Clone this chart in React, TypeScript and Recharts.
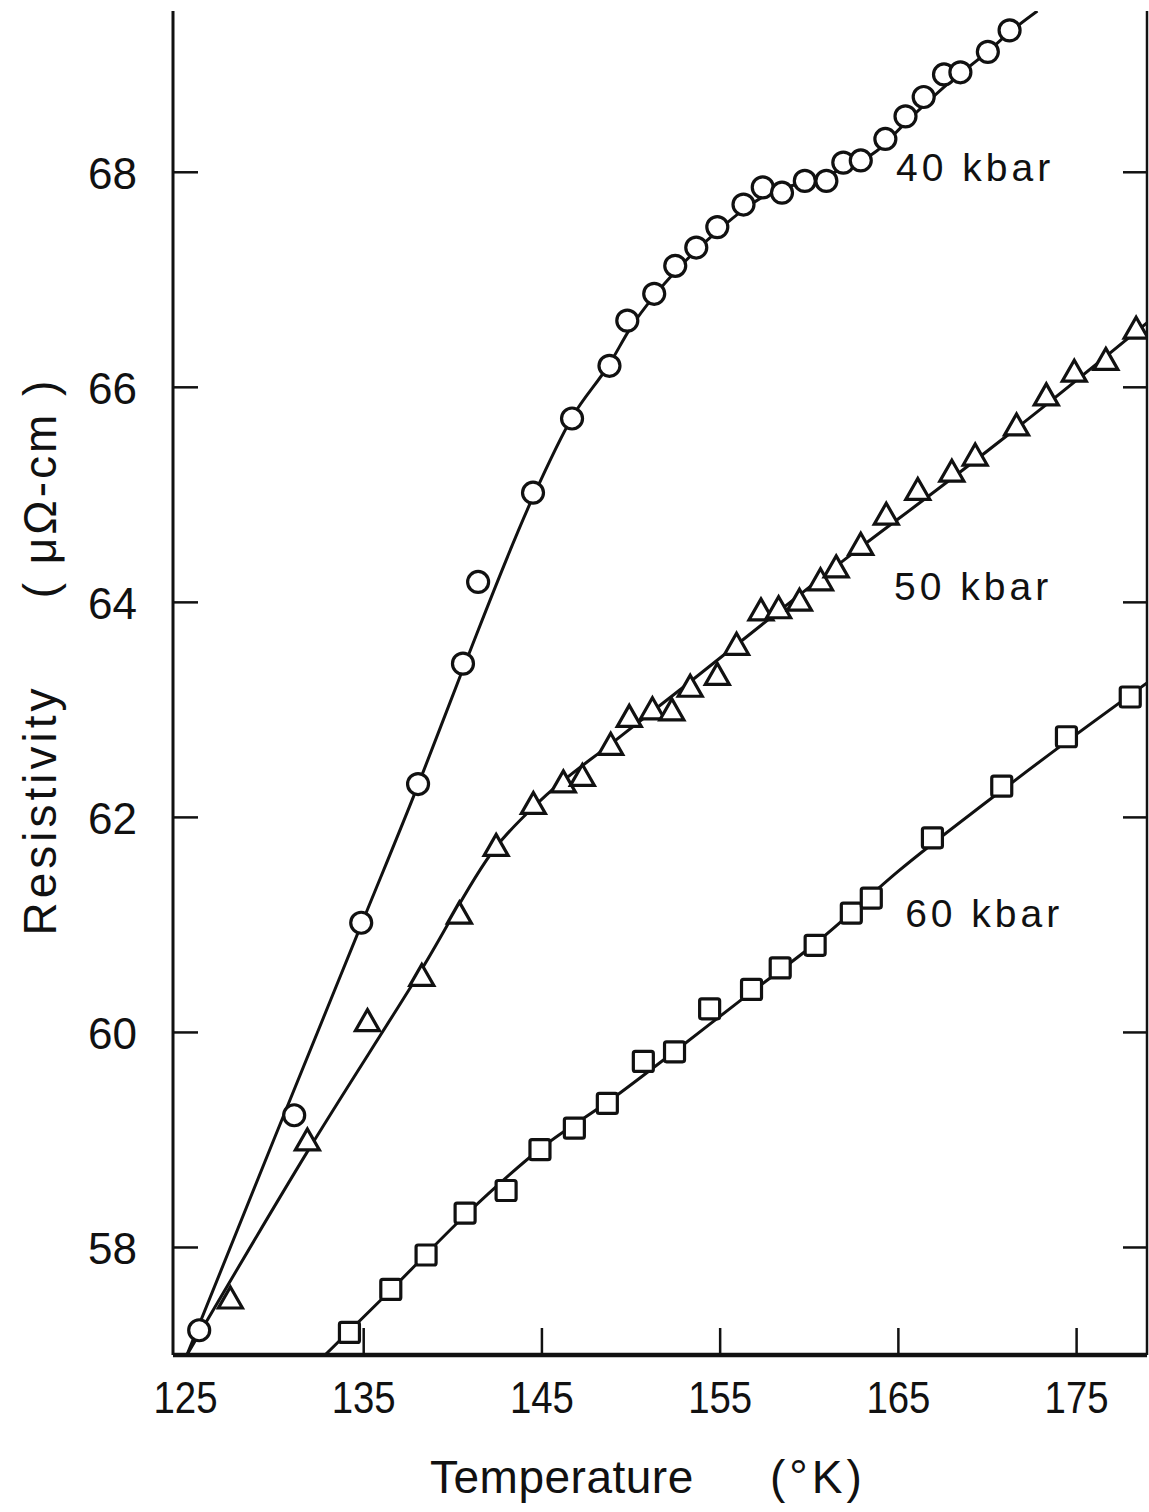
import React from 'react';
import { ComposedChart, Line, Scatter, XAxis, YAxis, ReferenceDot } from 'recharts';

// axis ticks
const tempTicks = [125, 135, 145, 155, 165, 175];
const resTicks = [58, 60, 62, 64, 66, 68];

// 40 kbar (circles)
const points40 = [
  { t: 125.77, r: 57.23 }, { t: 131.1, r: 59.23 }, { t: 134.86, r: 61.02 }, { t: 138.05, r: 62.31 },
  { t: 140.57, r: 63.43 }, { t: 141.42, r: 64.19 }, { t: 144.5, r: 65.02 }, { t: 146.69, r: 65.71 },
  { t: 148.79, r: 66.2 }, { t: 149.79, r: 66.62 }, { t: 151.3, r: 66.87 }, { t: 152.48, r: 67.13 },
  { t: 153.66, r: 67.3 }, { t: 154.84, r: 67.49 }, { t: 156.31, r: 67.7 }, { t: 157.39, r: 67.86 },
  { t: 158.47, r: 67.81 }, { t: 159.75, r: 67.92 }, { t: 160.96, r: 67.92 }, { t: 161.91, r: 68.09 },
  { t: 162.89, r: 68.11 }, { t: 164.27, r: 68.31 }, { t: 165.4, r: 68.52 }, { t: 166.42, r: 68.7 },
  { t: 167.56, r: 68.91 }, { t: 168.48, r: 68.93 }, { t: 170.02, r: 69.12 }, { t: 171.24, r: 69.32 },
];
const curve40 = [
  { t: 125.08, r: 57.0 }, { t: 130.0, r: 59.02 }, { t: 134.86, r: 61.0 }, { t: 138.05, r: 62.3 },
  { t: 140.57, r: 63.38 }, { t: 144.5, r: 64.98 }, { t: 146.69, r: 65.72 }, { t: 148.8, r: 66.22 },
  { t: 150, r: 66.56 }, { t: 151.3, r: 66.85 }, { t: 152.5, r: 67.08 }, { t: 153.7, r: 67.28 },
  { t: 154.9, r: 67.46 }, { t: 156.3, r: 67.65 }, { t: 157.5, r: 67.78 }, { t: 158.7, r: 67.86 },
  { t: 160, r: 67.92 }, { t: 161.4, r: 68.0 }, { t: 162.6, r: 68.08 }, { t: 163.8, r: 68.2 },
  { t: 165.4, r: 68.46 }, { t: 167.9, r: 68.84 }, { t: 170, r: 69.12 }, { t: 171.3, r: 69.31 },
  { t: 172.8, r: 69.5 },
];

// 50 kbar (triangles)
const points50 = [
  { t: 127.52, r: 57.53 }, { t: 131.84, r: 59.0 }, { t: 135.21, r: 60.11 }, { t: 138.26, r: 60.53 },
  { t: 140.37, r: 61.11 }, { t: 142.43, r: 61.74 }, { t: 144.52, r: 62.13 }, { t: 146.2, r: 62.33 },
  { t: 147.27, r: 62.39 }, { t: 148.86, r: 62.68 }, { t: 149.9, r: 62.94 }, { t: 151.2, r: 63.01 },
  { t: 152.29, r: 63.0 }, { t: 153.32, r: 63.22 }, { t: 154.84, r: 63.33 }, { t: 155.92, r: 63.61 },
  { t: 157.29, r: 63.93 }, { t: 158.28, r: 63.95 }, { t: 159.45, r: 64.02 }, { t: 160.63, r: 64.21 },
  { t: 161.51, r: 64.33 }, { t: 162.89, r: 64.54 }, { t: 164.32, r: 64.82 }, { t: 166.09, r: 65.05 },
  { t: 168.0, r: 65.22 }, { t: 169.31, r: 65.37 }, { t: 171.63, r: 65.65 }, { t: 173.3, r: 65.93 },
  { t: 174.87, r: 66.15 }, { t: 176.64, r: 66.26 }, { t: 178.34, r: 66.55 },
];
const curve50 = [
  { t: 125.08, r: 57.0 }, { t: 131.8, r: 58.88 }, { t: 138.3, r: 60.6 }, { t: 142.4, r: 61.72 },
  { t: 145, r: 62.17 }, { t: 149, r: 62.7 }, { t: 153, r: 63.22 }, { t: 157.7, r: 63.84 },
  { t: 162, r: 64.4 }, { t: 167.9, r: 65.14 }, { t: 173, r: 65.8 }, { t: 178.95, r: 66.6 },
];

// 60 kbar (squares)
const points60 = [
  { t: 134.2, r: 57.21 }, { t: 136.52, r: 57.61 }, { t: 138.5, r: 57.93 }, { t: 140.69, r: 58.32 },
  { t: 142.99, r: 58.53 }, { t: 144.89, r: 58.91 }, { t: 146.82, r: 59.11 }, { t: 148.67, r: 59.34 },
  { t: 150.69, r: 59.73 }, { t: 152.44, r: 59.82 }, { t: 154.41, r: 60.22 }, { t: 156.76, r: 60.4 },
  { t: 158.37, r: 60.6 }, { t: 160.33, r: 60.81 }, { t: 162.36, r: 61.11 }, { t: 163.48, r: 61.25 },
  { t: 166.91, r: 61.81 }, { t: 170.8, r: 62.29 }, { t: 174.43, r: 62.75 }, { t: 178.01, r: 63.12 },
];
const curve60 = [
  { t: 132.83, r: 57.0 }, { t: 136.5, r: 57.6 }, { t: 140.7, r: 58.3 }, { t: 145, r: 58.93 },
  { t: 149, r: 59.39 }, { t: 152.5, r: 59.83 }, { t: 156, r: 60.28 }, { t: 160.8, r: 60.89 },
  { t: 165, r: 61.5 }, { t: 170, r: 62.15 }, { t: 174.4, r: 62.7 }, { t: 178.95, r: 63.25 },
];

const seriesLabels = [
  { t: 164.87, r: 67.92, text: '40 kbar' },
  { t: 164.76, r: 64.02, text: '50 kbar' },
  { t: 165.38, r: 60.98, text: '60 kbar' },
];

const INK = '#111';
const FONT = '"Liberation Sans", Arial, sans-serif';

const CircleMark = (p: any) => (
  <circle cx={p.cx} cy={p.cy} r={10.5} fill="#fff" stroke={INK} strokeWidth={3.2} />
);
const TriangleMark = (p: any) => (
  <path
    d={`M${p.cx},${p.cy - 11} L${p.cx + 12},${p.cy + 10} L${p.cx - 12},${p.cy + 10} Z`}
    fill="#fff" stroke={INK} strokeWidth={3.2} strokeLinejoin="miter"
  />
);
const SquareMark = (p: any) => (
  <rect x={p.cx - 10} y={p.cy - 10} width={20} height={20} rx={2} fill="#fff" stroke={INK} strokeWidth={3.2} />
);

const BottomTick = (props: any) => {
  const { x, y, payload } = props;
  return (
    <g>
      {payload.value !== 125 && <line x1={x} y1={y} x2={x} y2={y - 27} stroke={INK} strokeWidth={2.5} />}
      <text x={x} y={y + 58} textAnchor="middle" fontSize={44} fontFamily={FONT} fill={INK}
        textLength={64} lengthAdjust="spacingAndGlyphs">{payload.value}</text>
    </g>
  );
};
const TopTick = (props: any) => {
  const { x, y, payload } = props;
  if (payload.value === 125) return <g />;
  return <line x1={x} y1={y} x2={x} y2={y + 21} stroke={INK} strokeWidth={2.5} />;
};
const LeftTick = (props: any) => {
  const { x, y, payload } = props;
  return (
    <g>
      <line x1={x} y1={y} x2={x + 25} y2={y} stroke={INK} strokeWidth={2.5} />
      <text x={x - 36} y={y + 17} textAnchor="end" fontSize={44} fontFamily={FONT} fill={INK}
        textLength={49} lengthAdjust="spacingAndGlyphs">{payload.value}</text>
    </g>
  );
};
const RightTick = (props: any) => {
  const { x, y } = props;
  return <line x1={x} y1={y} x2={x - 24} y2={y} stroke={INK} strokeWidth={2.5} />;
};

const seriesLabel = (text: string) => (p: any) => {
  const vb = p.viewBox || {};
  return (
    <text x={vb.x + 1} y={vb.y + 1} fontSize={39} letterSpacing={4} fontFamily={FONT} fill={INK}>
      {text}
    </text>
  );
};

export default function App() {
  return (
    <div style={{ width: 1149, height: 1512, background: '#fff', position: 'relative' }}>
      <style>{'body{margin:0;background:#fff}'}</style>
      <ComposedChart width={1149} height={1512} margin={{ top: 11, right: 0, bottom: 0, left: 0 }}>
        <XAxis xAxisId="b" type="number" dataKey="t" domain={[124.3, 178.95]} ticks={tempTicks}
          allowDataOverflow height={157} tickSize={0} tickMargin={0} tickLine={false}
          tick={<BottomTick />} axisLine={{ stroke: INK, strokeWidth: 4.5 }} interval={0} />
        <XAxis xAxisId="top" orientation="top" type="number" dataKey="t" domain={[124.3, 178.95]}
          ticks={tempTicks} allowDataOverflow height={0} tickSize={0} tickMargin={0} tickLine={false}
          tick={<TopTick />} axisLine={{ stroke: INK, strokeWidth: 4 }} interval={0} />
        <YAxis yAxisId="l" type="number" dataKey="r" domain={[57, 69.5]} ticks={resTicks}
          allowDataOverflow width={173} tickSize={0} tickMargin={0} tickLine={false}
          tick={<LeftTick />} axisLine={{ stroke: INK, strokeWidth: 3 }} interval={0} />
        <YAxis yAxisId="r" orientation="right" type="number" dataKey="r" domain={[57, 69.5]}
          ticks={resTicks} allowDataOverflow width={2} tickSize={0} tickMargin={0} tickLine={false}
          tick={<RightTick />} axisLine={{ stroke: INK, strokeWidth: 2.5 }} interval={0} />

        <Line xAxisId="b" yAxisId="l" data={curve40} dataKey="r" type="monotone" dot={false}
          stroke={INK} strokeWidth={3} isAnimationActive={false} />
        <Line xAxisId="b" yAxisId="l" data={curve50} dataKey="r" type="monotone" dot={false}
          stroke={INK} strokeWidth={3} isAnimationActive={false} />
        <Line xAxisId="b" yAxisId="l" data={curve60} dataKey="r" type="monotone" dot={false}
          stroke={INK} strokeWidth={3} isAnimationActive={false} />

        <Scatter xAxisId="b" yAxisId="l" data={points40} shape={CircleMark} isAnimationActive={false} />
        <Scatter xAxisId="b" yAxisId="l" data={points50} shape={TriangleMark} isAnimationActive={false} />
        <Scatter xAxisId="b" yAxisId="l" data={points60} shape={SquareMark} isAnimationActive={false} />

        {seriesLabels.map((s) => (
          <ReferenceDot key={s.text} xAxisId="b" yAxisId="l" x={s.t} y={s.r} r={1}
            fill="none" stroke="none" label={seriesLabel(s.text)} />
        ))}
      </ComposedChart>

      <svg width={1149} height={1512} style={{ position: 'absolute', left: 0, top: 0, pointerEvents: 'none' }}>
        <text x={430} y={1493} fontSize={46} fontFamily={FONT} fill={INK} letterSpacing={0.5}>Temperature</text>
        <text x={770} y={1493} fontSize={46} fontFamily={FONT} fill={INK} letterSpacing={4}>(°K)</text>
        <text x={56} y={810} transform="rotate(-90 56 810)" textAnchor="middle" fontSize={46}
          fontFamily={FONT} fill={INK} letterSpacing={4}>Resistivity</text>
        <text x={56} y={488} transform="rotate(-90 56 488)" textAnchor="middle" fontSize={46}
          fontFamily={FONT} fill={INK} letterSpacing={3}>( μΩ-cm )</text>
      </svg>
    </div>
  );
}
